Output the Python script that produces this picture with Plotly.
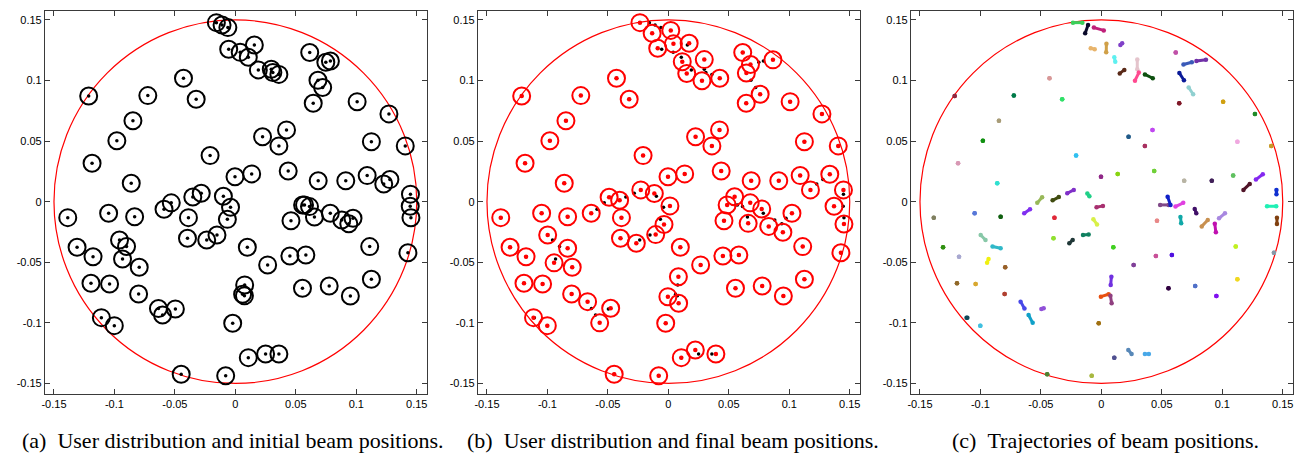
import plotly.graph_objects as go

# ---------------- data ----------------
user_x = [-0.0157, -0.0110, -0.0062, -0.0055, 0.0040, 0.0107, 0.0157, 0.0190, 0.0297, 0.0310,
          0.0360, 0.0615, 0.0748, 0.0786, 0.0683, 0.0722, 0.0644, 0.1007, 0.1270, 0.1405,
          0.0423, 0.0225, 0.0360, 0.1125, -0.0003, 0.0135, 0.0437, 0.0685, 0.0913, 0.1090,
          0.1227, 0.1278, 0.1448, 0.1446, -0.1213, -0.0724, -0.0429, -0.0324, -0.0847, -0.0980,
          -0.1185, -0.0209, -0.0861, -0.0099, -0.0282, -0.0352, -0.0040, -0.0530, -0.0590, -0.1386,
          -0.1048, -0.0833, -0.0388, -0.0066, -0.0152, -0.0237, -0.0396, -0.1309, -0.1177, -0.0958,
          -0.0900, -0.0933, -0.0795, -0.1194, -0.1040, -0.0800, -0.0636, -0.0602, -0.0496, -0.1108,
          -0.1001, -0.0022, -0.0448, -0.0080, 0.0556, 0.0572, 0.0613, 0.0460, 0.0654, 0.0785,
          0.0880, 0.0938, 0.0973, 0.1452, 0.1427, 0.1111, 0.0099, 0.0267, 0.0451, 0.0583,
          0.0077, 0.0060, 0.0075, 0.0555, 0.0776, 0.0951, 0.1125, 0.0107, 0.0250, 0.0360]
user_y = [0.1477, 0.1458, 0.1436, 0.1257, 0.1232, 0.1192, 0.1293, 0.1087, 0.1092, 0.1065,
          0.1050, 0.1230, 0.1150, 0.1160, 0.1002, 0.0942, 0.0812, 0.0825, 0.0724, 0.0460,
          0.0592, 0.0536, 0.0460, 0.0495, 0.0206, 0.0229, 0.0253, 0.0173, 0.0173, 0.0215,
          0.0146, 0.0182, 0.0062, -0.0038, 0.0872, 0.0875, 0.1018, 0.0845, 0.0668, 0.0503,
          0.0317, 0.0380, 0.0152, 0.0044, 0.0069, 0.0038, -0.0046, -0.0010, -0.0063, -0.0132,
          -0.0096, -0.0124, -0.0132, -0.0146, -0.0275, -0.0316, -0.0302, -0.0376, -0.0454, -0.0316,
          -0.0370, -0.0473, -0.0541, -0.0673, -0.0679, -0.0762, -0.0882, -0.0935, -0.0885, -0.0957,
          -0.1023, -0.1003, -0.1424, -0.1436, -0.0027, -0.0027, -0.0041, -0.0157, -0.0126, -0.0096,
          -0.0151, -0.0182, -0.0137, -0.0133, -0.0421, -0.0371, -0.0376, -0.0522, -0.0448, -0.0440,
          -0.0687, -0.0764, -0.0777, -0.0715, -0.0696, -0.0778, -0.0640, -0.1287, -0.1257, -0.1257]

beam_x = [-0.0235, -0.0134, 0.0020, -0.0088, 0.0042, 0.0115, 0.0172, 0.0152, 0.0297, 0.0278,
          0.0425, 0.0615, 0.0679, 0.0865, 0.0645, 0.0759, 0.0644, 0.1007, 0.1270, 0.1405,
          0.0423, 0.0225, 0.0360, 0.1125, -0.0003, 0.0135, 0.0437, 0.0685, 0.0913, 0.1090,
          0.1175, 0.1335, 0.1448, 0.1370, -0.1213, -0.0724, -0.0429, -0.0324, -0.0847, -0.0980,
          -0.1185, -0.0209, -0.0861, -0.0116, -0.0228, -0.0403, 0.0013, -0.0490, -0.0638, -0.1386,
          -0.1048, -0.0833, -0.0388, -0.0036, -0.0105, -0.0265, -0.0396, -0.1309, -0.1177, -0.0998,
          -0.0833, -0.0945, -0.0795, -0.1194, -0.1040, -0.0800, -0.0668, -0.0568, -0.0477, -0.1115,
          -0.1001, -0.0022, -0.0448, -0.0080, 0.0486, 0.0548, 0.0677, 0.0460, 0.0660, 0.0772,
          0.0830, 0.0947, 0.1022, 0.1452, 0.1427, 0.1111, 0.0099, 0.0267, 0.0451, 0.0583,
          0.0083, -0.0004, 0.0085, 0.0555, 0.0776, 0.0951, 0.1125, 0.0107, 0.0223, 0.0393]
beam_y = [0.1477, 0.1390, 0.1413, 0.1266, 0.1302, 0.1155, 0.1307, 0.1058, 0.1172, 0.0998,
          0.1018, 0.1230, 0.1131, 0.1170, 0.1062, 0.0886, 0.0812, 0.0825, 0.0724, 0.0460,
          0.0592, 0.0536, 0.0460, 0.0495, 0.0206, 0.0229, 0.0253, 0.0173, 0.0173, 0.0215,
          0.0097, 0.0226, 0.0097, -0.0038, 0.0872, 0.0875, 0.1018, 0.0845, 0.0668, 0.0503,
          0.0317, 0.0380, 0.0152, 0.0067, 0.0097, 0.0011, -0.0035, 0.0036, -0.0096, -0.0132,
          -0.0096, -0.0124, -0.0132, -0.0188, -0.0272, -0.0343, -0.0302, -0.0376, -0.0454, -0.0275,
          -0.0385, -0.0505, -0.0541, -0.0673, -0.0679, -0.0762, -0.0825, -0.1000, -0.0880, -0.0957,
          -0.1023, -0.1003, -0.1424, -0.1436, -0.0027, 0.0041, -0.0010, -0.0157, -0.0179, -0.0060,
          -0.0204, -0.0253, -0.0096, -0.0184, -0.0421, -0.0371, -0.0376, -0.0522, -0.0448, -0.0440,
          -0.0619, -0.0784, -0.0838, -0.0715, -0.0696, -0.0778, -0.0640, -0.1287, -0.1224, -0.1257]

cell_radius = 0.15
tick_vals = [-0.15, -0.1, -0.05, 0, 0.05, 0.1, 0.15]
tick_text = ["-0.15", "-0.1", "-0.05", "0", "0.05", "0.1", "0.15"]
captions = ["(a)\u00a0\u00a0User distribution and initial beam positions.",
            "(b)\u00a0\u00a0User distribution and final beam positions.",
            "(c)\u00a0\u00a0Trajectories of beam positions."]

# trajectory colours (style)
traj_colors = ["#3ccf5a", "#0a0a2a", "#c0207a", "#e8b46c", "#d0a048", "#5ef0f0", "#8040c8", "#5a2a18", "#e4c4cc", "#ff4a90",
               "#0e5010", "#c050a8", "#3a5ab8", "#7030a8", "#0a1a98", "#90d0d0", "#801828", "#d0a010", "#208a28", "#c89a28",
               "#c048f0", "#205a88", "#a83060", "#f0a8e0", "#902888", "#88d410", "#70d038", "#b8b4a4", "#402058", "#60c060",
               "#501428", "#8428f0", "#1030d0", "#20f0b4", "#902840", "#007a48", "#d89898", "#30e068", "#a89c78", "#109010",
               "#d898b4", "#30c0f0", "#30e0d0", "#20d088", "#8030c8", "#404c10", "#a83070", "#98b858", "#8030f0", "#808060",
               "#5878d8", "#106010", "#e02838", "#d8f048", "#108060", "#203838", "#90e030", "#309010", "#a8a8d0", "#88c8a8",
               "#30b8c8", "#f0f010", "#986028", "#906828", "#d8a830", "#b04030", "#4848e8", "#10a0c8", "#9050d8", "#104858",
               "#40c0e0", "#a07010", "#508030", "#a8b840", "#804888", "#1020c8", "#e040e0", "#e88888", "#10a8a8", "#401068",
               "#c89050", "#c010b0", "#a888e0", "#804010", "#8898a8", "#c0f020", "#40d020", "#804098", "#c85098", "#5010e0",
               "#7030e0", "#e85010", "#904080", "#300040", "#5070c8", "#8010f0", "#f0d820", "#505090", "#5888b8", "#48a8e8"]

# ---------------- figure ----------------
W, H = 1305, 460
fig = go.Figure()

dom_x = [(42 / W, 425 / W), (476 / W, 859 / W), (910 / W, 1293 / W)]
dom_y = (1 - 394 / H, 1 - 11 / H)
xr = [-0.1575, 0.1585]
yr = [-0.1587, 0.1573]

axis_style = dict(
    showgrid=False, zeroline=False, showline=True, linecolor="#3a3a3a", linewidth=1,
    mirror="ticks", ticks="inside", ticklen=5, tickwidth=1, tickcolor="#3a3a3a",
    tickvals=tick_vals, ticktext=tick_text,
    tickfont=dict(family="Liberation Sans, Arial, sans-serif", size=11, color="black"),
)

layout = dict(width=W, height=H, margin=dict(l=0, r=0, t=0, b=0),
              paper_bgcolor="white", plot_bgcolor="white", showlegend=False)
for i in range(3):
    sx = "" if i == 0 else str(i + 1)
    layout["xaxis" + sx] = dict(axis_style, range=xr, domain=list(dom_x[i]), anchor="y" + sx)
    layout["yaxis" + sx] = dict(axis_style, range=yr, domain=list(dom_y), anchor="x" + sx)
fig.update_layout(**layout)

# cell boundary circles
for i in range(3):
    sx = "" if i == 0 else str(i + 1)
    fig.add_shape(type="circle", xref="x" + sx, yref="y" + sx,
                  x0=-cell_radius, y0=-cell_radius, x1=cell_radius, y1=cell_radius,
                  line=dict(color="#ff0000", width=1.2), layer="below")

# (a) initial beams = user positions
fig.add_trace(go.Scatter(x=user_x, y=user_y, mode="markers", xaxis="x", yaxis="y",
                         marker=dict(symbol="circle-open", size=17, color="black", line=dict(width=2, color="black"))))
fig.add_trace(go.Scatter(x=user_x, y=user_y, mode="markers", xaxis="x", yaxis="y",
                         marker=dict(symbol="circle", size=3.5, color="black")))

# (b) users + final beams
fig.add_trace(go.Scatter(x=user_x, y=user_y, mode="markers", xaxis="x2", yaxis="y2",
                         marker=dict(symbol="circle", size=3.5, color="black")))
fig.add_trace(go.Scatter(x=beam_x, y=beam_y, mode="markers", xaxis="x2", yaxis="y2",
                         marker=dict(symbol="circle-open", size=17, color="#ff0000", line=dict(width=2, color="#ff0000"))))
fig.add_trace(go.Scatter(x=beam_x, y=beam_y, mode="markers", xaxis="x2", yaxis="y2",
                         marker=dict(symbol="circle", size=4.5, color="#ff0000")))

# (c) trajectories
for k in range(len(user_x)):
    c = traj_colors[k % len(traj_colors)]
    fig.add_trace(go.Scatter(x=[user_x[k], beam_x[k]], y=[user_y[k], beam_y[k]],
                             mode="lines+markers", xaxis="x3", yaxis="y3",
                             line=dict(color=c, width=3),
                             marker=dict(symbol="circle", size=4.5, color=c)))

# captions
cap_x = [231 / W, 672 / W, 1105 / W]
for i in range(3):
    fig.add_annotation(text=captions[i], xref="paper", yref="paper", x=cap_x[i], y=1 - 440 / H,
                       xanchor="center", yanchor="middle", showarrow=False,
                       font=dict(family="Liberation Serif, Times New Roman, serif", size=22, color="black"))

fig.write_html("out.html")
